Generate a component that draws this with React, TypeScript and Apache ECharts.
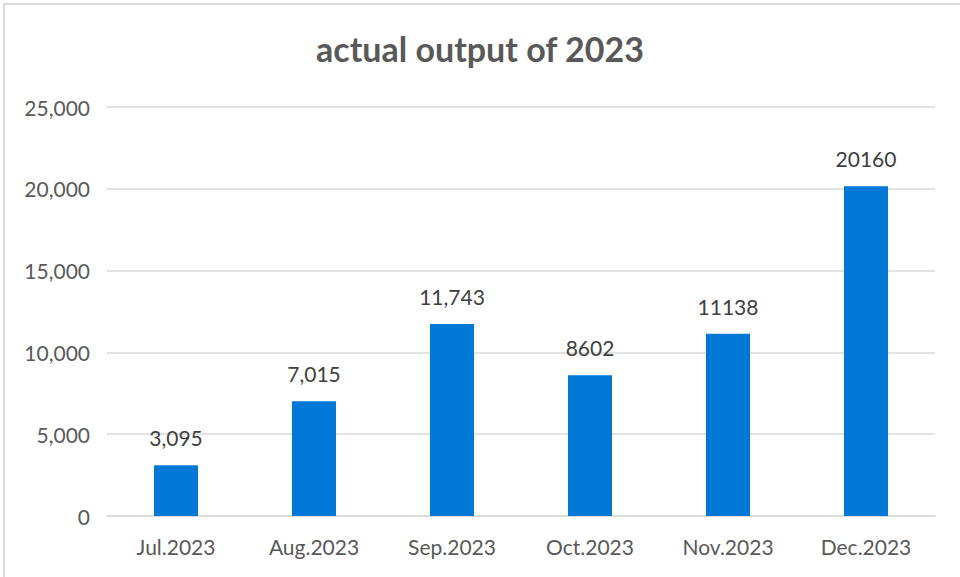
import React, { useEffect, useRef } from "react";
import * as echarts from "echarts";

const categories = ["Jul.2023", "Aug.2023", "Sep.2023", "Oct.2023", "Nov.2023", "Dec.2023"];
const values = [3095, 7015, 11743, 8602, 11138, 20160];
const valueLabels = ["3,095", "7,015", "11,743", "8602", "11138", "20160"];
const yTicks = { min: 0, max: 25000, interval: 5000 };

export default function App() {
  const ref = useRef<HTMLDivElement>(null);
  useEffect(() => {
    const chart = echarts.init(ref.current!, null, { renderer: "svg" });
    chart.setOption({
      animation: false,
      backgroundColor: "#ffffff",
      textStyle: { fontFamily: "Lato" },
      title: {
        text: "actual output of 2023",
        left: "center",
        top: 26,
        textStyle: { fontFamily: "Lato", fontSize: 34, fontWeight: "bold", color: "#595959" },
      },
      graphic: [
        {
          type: "rect",
          shape: { x: 4, y: 4, width: 1000, height: 700 },
          style: { fill: "none", stroke: "#d9d9d9", lineWidth: 2 },
          silent: true,
        },
      ],
      grid: { left: 107, right: 25, top: 107, bottom: 61, containLabel: false },
      xAxis: {
        type: "category",
        data: categories,
        axisLine: { show: true, lineStyle: { color: "#d9d9d9", width: 1.5 } },
        axisTick: { show: false },
        axisLabel: { color: "#595959", fontSize: 21, margin: 20, fontFamily: "Lato" },
      },
      yAxis: {
        type: "value",
        min: yTicks.min,
        max: yTicks.max,
        interval: yTicks.interval,
        axisLine: { show: false },
        axisTick: { show: false },
        splitLine: { lineStyle: { color: "#d9d9d9", width: 1.5 } },
        axisLabel: {
          color: "#595959",
          fontSize: 21,
          margin: 17,
          fontFamily: "Lato",
          formatter: (v: number) => v.toLocaleString("en-US"),
        },
      },
      series: [
        {
          type: "bar",
          data: values,
          barWidth: 44,
          itemStyle: { color: "#0078D7" },
          label: {
            show: true,
            position: "top",
            distance: 17,
            fontSize: 21,
            color: "#404040",
            fontFamily: "Lato",
            formatter: (p: any) => valueLabels[p.dataIndex],
          },
        },
      ],
    });
    return () => chart.dispose();
  }, []);
  return <div ref={ref} style={{ width: 960, height: 577, position: "absolute", left: 0, top: 0 }} />;
}
